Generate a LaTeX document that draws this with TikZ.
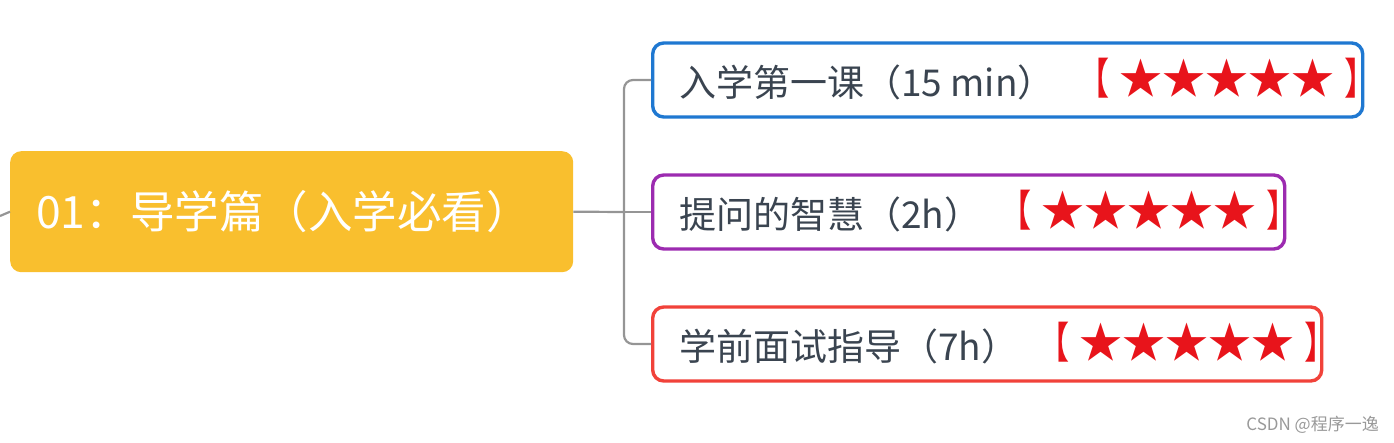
\documentclass[tikz,border=0pt]{standalone}
\usepackage{fontspec}
\newfontfamily\cjk{Noto Sans CJK SC}
\definecolor{yel}{HTML}{F9BF2E}
\definecolor{bblue}{HTML}{1F78D1}
\definecolor{bpurple}{HTML}{9C2BB0}
\definecolor{bred}{HTML}{F1423A}
\definecolor{starred}{HTML}{E8141B}
\definecolor{txt}{HTML}{3A4450}
\definecolor{conn}{HTML}{959595}
\newcommand{\fivestars}{\scalebox{0.75}[1]{【}\hspace{10pt}★★★★★\hspace{10pt}\scalebox{0.75}[1]{】}}
\tikzset{
  topicbox/.style={draw=#1, line width=3.4pt, rounded corners=11pt, fill=white,
    minimum height=74pt, anchor=west, inner sep=0pt},
  topictext/.style={anchor=west, inner sep=0pt, text=txt, font=\cjk\fontsize{37}{42}\selectfont},
  starstext/.style={anchor=west, inner sep=0pt, text=starred, font=\cjk\fontsize{43}{48}\selectfont},
  connline/.style={draw=conn, line width=2.2pt},
}
\begin{document}
\begin{tikzpicture}[x=1pt,y=-1pt]
\useasboundingbox (0,0) rectangle (1394,443);
% central topic
\node[fill=yel, rounded corners=11pt, minimum width=563pt, minimum height=121pt, anchor=north west, inner sep=0pt] (c) at (10,151) {};
\node[anchor=west, inner sep=0pt, text=white, font=\cjk\fontsize{44.5}{50}\selectfont] (ct) at (36,212) {01：导学篇（入学必看）};
% subtopics
\node[topicbox=bblue, minimum width=710pt] (b1) at (651,80) {};
\node[topicbox=bpurple, minimum width=632pt] (b2) at (651,212) {};
\node[topicbox=bred, minimum width=669pt] (b3) at (651,344) {};
\node[topictext] (t1) at (679,82) {入学第一课（15 min）};
\node[topictext] (t2) at (679,214) {提问的智慧（2h）};
\node[topictext] (t3) at (679,346) {学前面试指导（7h）};
\node[starstext] (s1) at (1077,78) {\fivestars};
\node[starstext] (s2) at (999,210) {\fivestars};
\node[starstext] (s3) at (1037,342) {\fivestars};
% connectors
\coordinate (l) at (0,216);
\coordinate (j) at (624,212);
\draw[connline] (l) -- (c.west);
\draw[connline] (c.east) -- (j);
\draw[connline] (j) -- (b2.west);
\draw[connline, rounded corners=9pt] (j) |- (b1.west);
\draw[connline, rounded corners=9pt] (j) |- (b3.west);
% credit
\node[anchor=east, inner sep=0pt, text=gray!80, font=\cjk\fontsize{17}{19}\selectfont] (credit) at (1379,425) {CSDN @程序一逸};
\end{tikzpicture}
\end{document}
